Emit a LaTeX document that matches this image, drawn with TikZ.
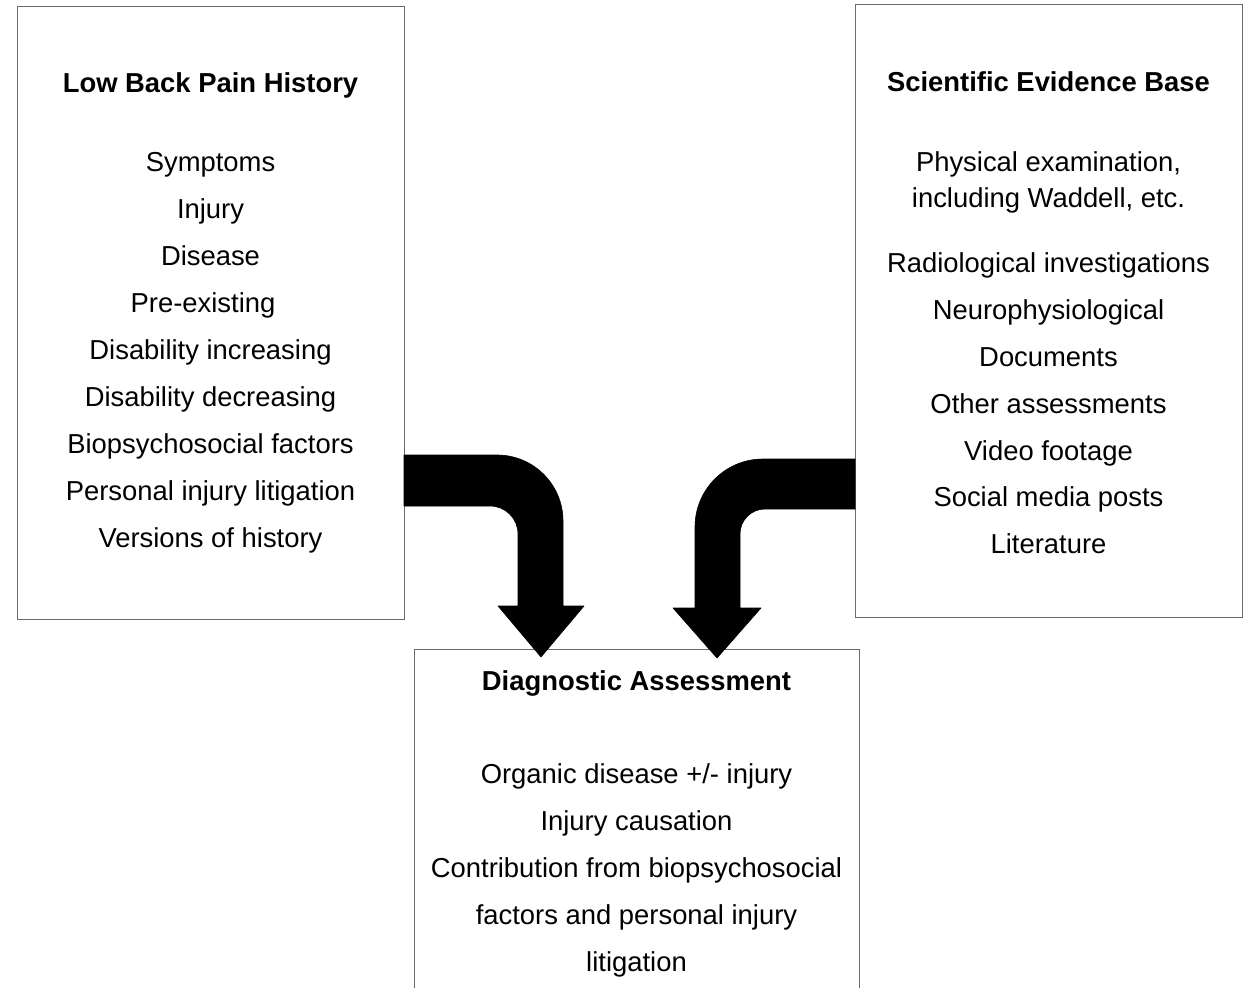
\documentclass[tikz,border=0pt]{standalone}
\usepackage{fontspec}
\setmainfont{Liberation Sans}
\definecolor{boxgray}{HTML}{6A6A6A}
\begin{document}
\begin{tikzpicture}[x=1pt,y=-1pt,
  panel/.style={draw=boxgray, line width=1.1pt, inner sep=0pt, anchor=north west},
  item/.style={anchor=base, inner sep=0pt, font=\fontsize{27.4}{32}\selectfont},
  heading/.style={item, font=\fontsize{27.4}{32}\selectfont\bfseries},
  blockarrow/.style={fill=black, draw=black, line width=0.6pt, line join=round}]
\useasboundingbox (0,0) rectangle (1248,988);
\clip (0,0) rectangle (1248,988);

% the three panels
\node[panel, minimum width=387pt, minimum height=613pt] (hist) at (17,6) {};
\node[panel, minimum width=387pt, minimum height=613pt] (evid) at (855,4) {};
\node[panel, minimum width=445pt, minimum height=400pt] (diag) at (414,649) {};

% history panel
\node[heading] (histT) at (210.5,92) {Low Back Pain History};
\node[item] (h1) at (210.5,171) {Symptoms};
\node[item] (h2) at (210.5,218) {Injury};
\node[item] (h3) at (210.5,265) {Disease};
\node[item] (h4) at (203,312) {Pre-existing};
\node[item] (h5) at (210.5,359) {Disability increasing};
\node[item] (h6) at (210.5,406) {Disability decreasing};
\node[item] (h7) at (210.5,453) {Biopsychosocial factors};
\node[item] (h8) at (210.5,500) {Personal injury litigation};
\node[item] (h9) at (210.5,547) {Versions of history};

% evidence panel
\node[heading] (evidT) at (1048.5,91) {Scientific Evidence Base};
\node[item] (e1a) at (1048.5,171) {Physical examination,};
\node[item] (e1b) at (1048.5,207) {including Waddell, etc.};
\node[item] (e2) at (1048.5,272) {Radiological investigations};
\node[item] (e3) at (1048.5,319) {Neurophysiological};
\node[item] (e4) at (1048.5,366) {Documents};
\node[item] (e5) at (1048.5,413) {Other assessments};
\node[item] (e6) at (1048.5,460) {Video footage};
\node[item] (e7) at (1048.5,506) {Social media posts};
\node[item] (e8) at (1048.5,553) {Literature};

% assessment panel
\node[heading] (diagT) at (636.5,690) {Diagnostic Assessment};
\node[item] (d1) at (636.5,783) {Organic disease +/- injury};
\node[item] (d2) at (636.5,830) {Injury causation};
\node[item] (d3) at (636.5,877) {Contribution from biopsychosocial};
\node[item] (d4) at (636.5,924) {factors and personal injury};
\node[item] (d5) at (636.5,971) {litigation};

% bent block arrow from the history panel
\fill[blockarrow] (404,455) -- (497,455)
  .. controls (533.5,455) and (563,484.5) .. (563,521)
  -- (563,606) -- (584,606) -- (541,657) -- (498,606) -- (518,606)
  -- (518,534) .. controls (518,518.5) and (505.5,506) .. (490,506)
  -- (404,506) -- cycle;

% bent block arrow from the evidence panel
\fill[blockarrow] (855,459) -- (763,459)
  .. controls (725.4,459) and (695,489.4) .. (695,527)
  -- (695,608) -- (673,608) -- (717,658) -- (761,608) -- (740,608)
  -- (740,534) .. controls (740,520.2) and (751.2,509) .. (765,509)
  -- (855,509) -- cycle;
\end{tikzpicture}
\end{document}
